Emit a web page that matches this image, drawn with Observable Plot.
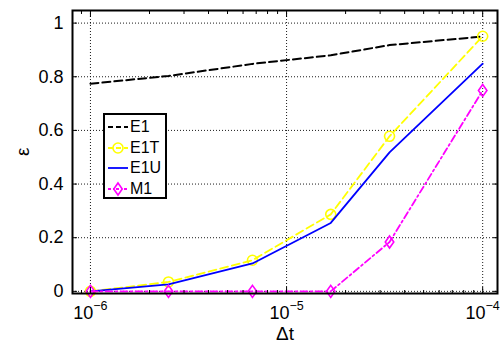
<!DOCTYPE html>
<html><head><meta charset="utf-8">
<script src="https://cdn.jsdelivr.net/npm/d3@7"></script>
<script src="https://cdn.jsdelivr.net/npm/@observablehq/plot@0.6"></script>
<style>
body{margin:0;background:#fff}
#wrap{position:relative;width:500px;height:350px}
#legend{position:absolute;left:103px;top:113px;width:60px;height:82px;border:2px solid #000;background:#fff;box-sizing:content-box;font-family:'Liberation Sans',Arial,sans-serif;font-size:16px}
.row{position:absolute;left:0;height:20px;display:flex;align-items:center}
.row svg{display:block}
.row span{margin-left:1px;line-height:20px}
</style>
</head><body>
<div id="wrap"></div>
<script>
const xVals = [1e-6, 2.5e-6, 6.7e-6, 1.68e-5, 3.35e-5, 1e-4];
const e1  = [0.774, 0.803, 0.848, 0.880, 0.918, 0.950];
const e1t = [0, 0.035, 0.116, 0.287, 0.578, 0.951];
const e1u = [0, 0.026, 0.104, 0.255, 0.518, 0.849];
const m1  = [0, 0, 0, 0, 0.184, 0.749];
const seriesNames = ["E1", "E1T", "E1U", "M1"];
const xMajor = [1e-6, 1e-5, 1e-4];
const xMinor = [9e-7, 2e-6, 3e-6, 4e-6, 5e-6, 6e-6, 7e-6, 8e-6, 9e-6, 2e-5, 3e-5, 4e-5, 5e-5, 6e-5, 7e-5, 8e-5, 9e-5];
const yTicks = [0, 0.2, 0.4, 0.6, 0.8, 1];
const xLabel = "Δt";
const yLabel = "ε";

const diamond = {draw(ctx, size){ const r = Math.sqrt(size/Math.PI); const h = r*1.2, w = r*0.85;
  ctx.moveTo(0,-h); ctx.lineTo(w,0); ctx.lineTo(0,h); ctx.lineTo(-w,0); ctx.closePath(); }};

const styles = {
  E1:  {stroke:"#000000", dash:"8,4", width:2, symbol:null},
  E1T: {stroke:"#ffff00", dash:"8,4", width:1.8, symbol:"circle"},
  E1U: {stroke:"#0000ff", dash:null, width:1.8, symbol:null},
  M1:  {stroke:"#ff00ff", dash:"7,3,2,3", width:1.8, symbol:diamond}
};
const valuesBy = {E1:e1, E1T:e1t, E1U:e1u, M1:m1};
const data = seriesNames.map(n => xVals.map((x,i) => ({series:n, x, y:valuesBy[n][i]})));

const seriesMarks = [];
data.forEach(d => {
  const s = styles[d[0].series];
  seriesMarks.push(Plot.line(d, {x:"x", y:"y", stroke:s.stroke, strokeWidth:s.width, strokeDasharray:s.dash}));
  if (s.symbol) seriesMarks.push(Plot.dot(d, {x:"x", y:"y", stroke:s.stroke, strokeWidth:1.6, fill:"none", r:5, symbol:s.symbol}));
});

const grid = {stroke:"#000", strokeDasharray:"1,2", strokeWidth:0.9, strokeOpacity:1};
const chart = Plot.plot({
  width:500, height:350,
  marginLeft:72, marginRight:3, marginTop:10, marginBottom:57,
  x:{type:"log", domain:[8.1e-7, 1.19e-4]},
  y:{domain:[-0.008, 1.047]},
  style:{fontFamily:"'Liberation Sans', Arial, sans-serif", fontSize:"18px", color:"#000", background:"#fff", overflow:"visible"},
  marks:[
    Plot.ruleX(xMajor, grid),
    Plot.ruleY(yTicks, grid),
    ...seriesMarks,
    Plot.axisY({ticks:yTicks, tickSize:0, tickPadding:9, tickFormat:d=>String(d), label:null, fontSize:18}),
    Plot.axisY({ticks:yTicks, tickSize:-5, tickFormat:()=>"", label:null}),
    Plot.axisY({anchor:"right", ticks:yTicks, tickSize:-5, tickFormat:()=>"", label:null}),
    Plot.axisX({ticks:xMajor, tickSize:0, tickPadding:13, tickFormat:d=>"10^" + Math.round(Math.log10(d)), label:null, fontSize:18}),
    Plot.axisX({ticks:xMajor, tickSize:-6, tickFormat:()=>"", label:null}),
    Plot.axisX({ticks:xMinor, tickSize:-3, tickFormat:()=>"", label:null}),
    Plot.axisX({anchor:"top", ticks:xMajor, tickSize:-6, tickFormat:()=>"", label:null}),
    Plot.axisX({anchor:"top", ticks:xMinor, tickSize:-3, tickFormat:()=>"", label:null}),
    Plot.text([xLabel], {frameAnchor:"bottom", dy:46, text:d=>d, fontSize:19}),
    Plot.text([yLabel], {frameAnchor:"left", dx:-50, dy:4, rotate:-90, text:d=>d, fontSize:19}),
    Plot.frame({stroke:"#000", strokeWidth:2})
  ]
});
document.getElementById("wrap").appendChild(chart);

// superscript exponents on the log axis labels
chart.querySelectorAll("text").forEach(t => {
  const s = t.textContent;
  if (/^10\^/.test(s)) {
    const exp = s.slice(3).replace("-", "\u2212");
    t.textContent = "";
    const a = document.createElementNS("http://www.w3.org/2000/svg", "tspan");
    a.textContent = "10";
    const b = document.createElementNS("http://www.w3.org/2000/svg", "tspan");
    b.textContent = exp; b.setAttribute("dy", "-9"); b.setAttribute("font-size", "12.5");
    t.appendChild(a); t.appendChild(b);
  }
});

// legend
const legend = document.createElement("div");
legend.id = "legend";
seriesNames.forEach((n, i) => {
  const s = styles[n];
  const row = document.createElement("div");
  row.className = "row";
  row.style.top = (2 + i*20.5) + "px";
  const NS = "http://www.w3.org/2000/svg";
  const svg = document.createElementNS(NS, "svg");
  svg.setAttribute("width", "24"); svg.setAttribute("height", "20");
  const ln = document.createElementNS(NS, "line");
  ln.setAttribute("x1", 3); ln.setAttribute("x2", 23); ln.setAttribute("y1", 10); ln.setAttribute("y2", 10);
  ln.setAttribute("stroke", s.stroke); ln.setAttribute("stroke-width", s.width);
  if (s.dash) ln.setAttribute("stroke-dasharray", n === "M1" ? "3,2,1,2" : "5,3");
  svg.appendChild(ln);
  if (s.symbol) {
    const p = document.createElementNS(NS, "path");
    p.setAttribute("d", d3.symbol(s.symbol === "circle" ? d3.symbolCircle : s.symbol, 25*Math.PI)());
    p.setAttribute("transform", "translate(13,10)");
    p.setAttribute("fill", "none"); p.setAttribute("stroke", s.stroke); p.setAttribute("stroke-width", 1.6);
    svg.appendChild(p);
  }
  row.appendChild(svg);
  const sp = document.createElement("span");
  sp.textContent = n;
  row.appendChild(sp);
  legend.appendChild(row);
});
document.getElementById("wrap").appendChild(legend);
</script>
</body></html>
